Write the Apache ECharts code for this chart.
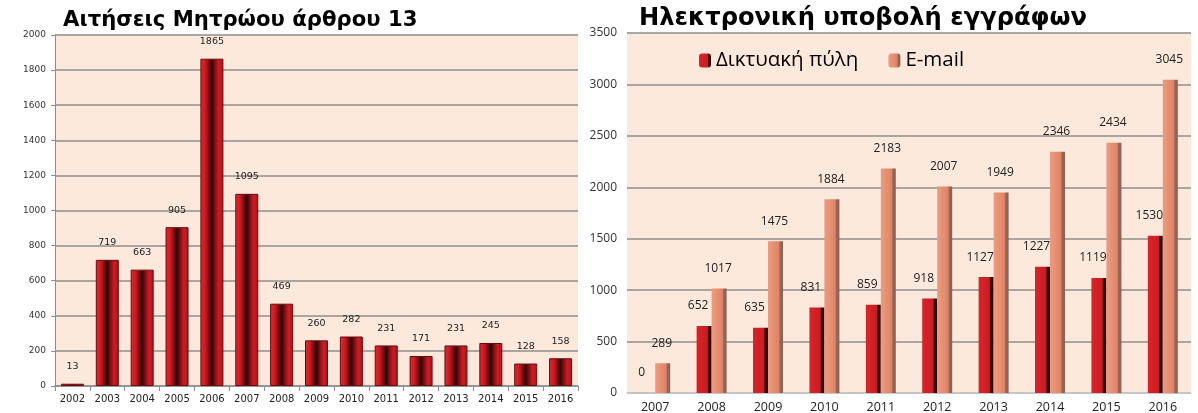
<!DOCTYPE html>
<html><head><meta charset="utf-8">
<script src="https://cdn.jsdelivr.net/npm/echarts@6/dist/echarts.min.js"></script>
<style>html,body{margin:0;padding:0;background:#fff}#c{width:1198px;height:413px}</style>
</head><body><div id="c"></div>
<script>
const yearsLeft = ['2002','2003','2004','2005','2006','2007','2008','2009','2010','2011','2012','2013','2014','2015','2016'];
const registryApplications = [13,719,663,905,1865,1095,469,260,282,231,171,231,245,128,158];
const yearsRight = ['2007','2008','2009','2010','2011','2012','2013','2014','2015','2016'];
const portalValues = [0,652,635,831,859,918,1127,1227,1119,1530];
const emailValues = [289,1017,1475,1884,2183,2007,1949,2346,2434,3045];
const titleLeft = 'Αιτήσεις Μητρώου άρθρου 13';
const titleRight = 'Ηλεκτρονική υποβολή εγγράφων';
const seriesNames = ['Δικτυακή πύλη','E-mail'];

const redFill = new echarts.graphic.LinearGradient(0,0,1,0,[
  {offset:0,color:'#e3282f'},{offset:0.2,color:'#cc1d24'},{offset:0.34,color:'#8e1015'},
  {offset:0.5,color:'#2e0506'},{offset:0.66,color:'#8e1015'},{offset:0.8,color:'#cc1d24'},{offset:1,color:'#a3161b'}]);
const redFill2 = new echarts.graphic.LinearGradient(0,0,1,0,[
  {offset:0,color:'#d9242b'},{offset:0.72,color:'#c81d23'},{offset:0.8,color:'#3a0708'},{offset:1,color:'#2a0506'}]);
const salmonFill = new echarts.graphic.LinearGradient(0,0,1,0,[
  {offset:0,color:'#ec9c80'},{offset:0.72,color:'#df8466'},{offset:0.8,color:'#9a6656'},{offset:1,color:'#8a6054'}]);

const plain = v => String(v);
const chart = echarts.init(document.getElementById('c'));
const gridLine = {show:true, lineStyle:{color:'#8e8e8e', width:1.6}};
chart.setOption({
  animation:false,
  backgroundColor:'#ffffff',
  title:[
    {text:titleLeft, left:58, top:5, textStyle:{fontFamily:'DejaVu Sans', fontWeight:'bold', fontSize:21.2, color:'#000'}},
    {text:titleRight, left:634, top:2, textStyle:{fontFamily:'DejaVu Sans', fontWeight:'bold', fontSize:24.2, color:'#000'}}
  ],
  legend:{data:seriesNames, left:694, top:45, itemWidth:12, itemHeight:14, itemGap:30,
    textStyle:{fontFamily:'Open Sans', fontSize:20.5, color:'#000'}},
  grid:[
    {left:55, top:35, width:523, height:351, show:true, backgroundColor:'#fde9db', borderWidth:0, outerBoundsMode:'none', containLabel:false},
    {left:627, top:33, width:564, height:360, show:true, backgroundColor:'#fde9db', borderWidth:0, outerBoundsMode:'none', containLabel:false}
  ],
  xAxis:[
    {type:'category', gridIndex:0, data:yearsLeft, axisLine:{lineStyle:{color:'#8e8e8e', width:1.5}},
     axisTick:{show:true, lineStyle:{color:'#8e8e8e'}}, axisLabel:{fontFamily:'DejaVu Sans', fontSize:10, color:'#222', margin:8}},
    {type:'category', gridIndex:1, data:yearsRight, axisLine:{lineStyle:{color:'#d0d0d0', width:1.5}},
     axisTick:{show:false}, axisLabel:{fontFamily:'Open Sans', fontSize:12.5, color:'#222', margin:8}}
  ],
  yAxis:[
    {type:'value', gridIndex:0, min:0, max:2000, interval:200, axisLine:{show:true, lineStyle:{color:'#8e8e8e'}},
     axisTick:{show:true, length:4, lineStyle:{color:'#8e8e8e'}}, splitLine:gridLine,
     axisLabel:{formatter:plain, fontFamily:'DejaVu Sans', fontSize:9, color:'#333', margin:9}},
    {type:'value', gridIndex:1, min:0, max:3500, interval:500, axisLine:{show:false},
     axisTick:{show:false}, splitLine:gridLine,
     axisLabel:{formatter:plain, fontFamily:'Open Sans', fontSize:12, color:'#333', margin:10}}
  ],
  series:[
    {type:'bar', xAxisIndex:0, yAxisIndex:0, data:registryApplications, barWidth:23,
     itemStyle:{color:redFill, borderColor:'#6a0b0e', borderWidth:1},
     label:{show:true, position:'top', distance:12, fontFamily:'DejaVu Sans', fontSize:9.5, color:'#222'}},
    {name:seriesNames[0], type:'bar', xAxisIndex:1, yAxisIndex:1, data:portalValues, barWidth:15, barGap:'0%',
     itemStyle:{color:redFill2},
     label:{show:true, position:'top', distance:14, fontFamily:'Open Sans', fontSize:12, color:'#222', offset:[-6,0]}},
    {name:seriesNames[1], type:'bar', xAxisIndex:1, yAxisIndex:1, data:emailValues, barWidth:15,
     itemStyle:{color:salmonFill},
     label:{show:true, position:'top', distance:14, fontFamily:'Open Sans', fontSize:12, color:'#222', offset:[-1,0]}}
  ]
});
</script></body></html>
